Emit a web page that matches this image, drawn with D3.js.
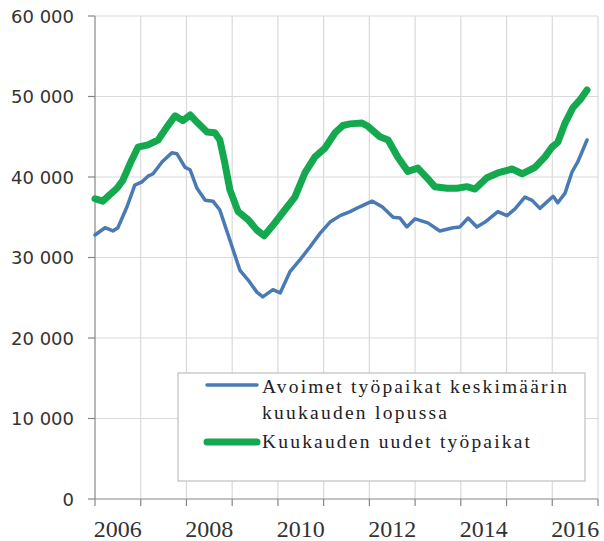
<!DOCTYPE html>
<html>
<head>
<meta charset="utf-8">
<script src="https://cdn.jsdelivr.net/npm/d3@7"></script>
</head>
<body style="margin:0">
<svg id="chart" width="604" height="541" font-family="Liberation Serif"></svg>
<script>
// data (time as decimal year)
var blueT = [2006.00, 2006.22, 2006.39, 2006.50, 2006.70, 2006.87, 2007.03, 2007.16, 2007.27, 2007.47,
             2007.68, 2007.79, 2007.97, 2008.08, 2008.23, 2008.41, 2008.58, 2008.73, 2008.80, 2009.00,
             2009.17, 2009.35, 2009.54, 2009.67, 2009.89, 2010.05, 2010.26, 2010.48, 2010.70, 2010.92,
             2011.14, 2011.36, 2011.58, 2011.79, 2012.06, 2012.28, 2012.52, 2012.67, 2012.82, 2013.00,
             2013.28, 2013.54, 2013.83, 2013.98, 2014.16, 2014.35, 2014.53, 2014.81, 2015.01, 2015.18,
             2015.40, 2015.56, 2015.73, 2016.02, 2016.12, 2016.28, 2016.43, 2016.56, 2016.76];
var blueV = [32800, 33700, 33300, 33700, 36300, 39000, 39400, 40100, 40400, 41900,
             43000, 42900, 41200, 40900, 38600, 37100, 37000, 35900, 34700, 31300,
             28400, 27200, 25700, 25100, 26000, 25600, 28200, 29700, 31300, 33000,
             34400, 35200, 35700, 36300, 37000, 36300, 35000, 34900, 33800, 34800,
             34300, 33300, 33700, 33800, 34900, 33800, 34400, 35700, 35200, 36000,
             37500, 37100, 36100, 37600, 36800, 38000, 40600, 41900, 44600];

var greenT = [2006.00, 2006.17, 2006.48, 2006.61, 2006.77, 2006.94, 2007.16, 2007.38, 2007.57, 2007.75,
              2007.92, 2008.08, 2008.25, 2008.45, 2008.62, 2008.73, 2008.84, 2008.95, 2009.13, 2009.35,
              2009.54, 2009.70, 2009.89, 2010.15, 2010.37, 2010.59, 2010.81, 2011.03, 2011.25, 2011.42,
              2011.58, 2011.84, 2011.97, 2012.23, 2012.41, 2012.63, 2012.84, 2013.06, 2013.26, 2013.43,
              2013.70, 2013.92, 2014.13, 2014.31, 2014.57, 2014.81, 2015.12, 2015.34, 2015.62, 2015.84,
              2015.99, 2016.12, 2016.28, 2016.45, 2016.61, 2016.76];
var greenV = [37300, 37000, 38600, 39600, 41700, 43700, 44000, 44600, 46200, 47600,
              47000, 47700, 46700, 45600, 45500, 44600, 41700, 38400, 35700, 34700,
              33400, 32700, 34000, 35900, 37500, 40500, 42500, 43600, 45500, 46400,
              46600, 46700, 46300, 45000, 44600, 42400, 40700, 41100, 39900, 38800,
              38600, 38600, 38800, 38500, 39900, 40500, 41000, 40400, 41200, 42500,
              43700, 44300, 46700, 48600, 49600, 50800];

var yTicks = [0, 10000, 20000, 30000, 40000, 50000, 60000];
var yLabels = ["0", "10 000", "20 000", "30 000", "40 000", "50 000", "60 000"];
var gridYears = [2006, 2007, 2008, 2009, 2010, 2011, 2012, 2013, 2014, 2015, 2016, 2017];
var labelYears = [2006, 2008, 2010, 2012, 2014, 2016];

var legendNames = ["Avoimet työpaikat keskimäärin", "kuukauden lopussa", "Kuukauden uudet työpaikat"];

var svg = d3.select("#chart");

var x = d3.scaleLinear().domain([2006, 2017]).range([95, 598]);
var y = d3.scaleLinear().domain([0, 60000]).range([499, 16]);

// gridlines
svg.append("g").selectAll("line")
    .data(yTicks.slice(1))
    .enter().append("line")
    .attr("x1", x(2006)).attr("x2", x(2017))
    .attr("y1", function(d){ return y(d); })
    .attr("y2", function(d){ return y(d); })
    .attr("stroke", "#d9d9d9").attr("stroke-width", 1.2);

svg.append("g").selectAll("line")
    .data(gridYears.slice(1))
    .enter().append("line")
    .attr("x1", function(d){ return x(d); })
    .attr("x2", function(d){ return x(d); })
    .attr("y1", y(60000)).attr("y2", y(0))
    .attr("stroke", "#d9d9d9").attr("stroke-width", 1.2);

// axes
svg.append("line")
    .attr("x1", x(2006)).attr("x2", x(2006))
    .attr("y1", y(60000)).attr("y2", y(0))
    .attr("stroke", "#868686").attr("stroke-width", 1.2);
svg.append("line")
    .attr("x1", x(2006)).attr("x2", x(2017))
    .attr("y1", y(0)).attr("y2", y(0))
    .attr("stroke", "#868686").attr("stroke-width", 1.2);

svg.append("g").selectAll("line")
    .data(yTicks).enter().append("line")
    .attr("x1", x(2006) - 7).attr("x2", x(2006))
    .attr("y1", function(d){ return y(d); })
    .attr("y2", function(d){ return y(d); })
    .attr("stroke", "#868686").attr("stroke-width", 1.2);

svg.append("g").selectAll("line")
    .data(gridYears).enter().append("line")
    .attr("x1", function(d){ return x(d); })
    .attr("x2", function(d){ return x(d); })
    .attr("y1", y(0)).attr("y2", y(0) + 7)
    .attr("stroke", "#868686").attr("stroke-width", 1.2);

svg.append("g").selectAll("text")
    .data(yTicks).enter().append("text")
    .attr("x", 74)
    .attr("y", function(d){ return y(d) + 6.5; })
    .attr("font-family", "DejaVu Sans")
    .attr("font-size", 18)
    .attr("fill", "#333")
    .attr("text-anchor", "end")
    .text(function(d, i){ return yLabels[i]; });

svg.append("g").selectAll("text")
    .data(labelYears).enter().append("text")
    .attr("x", function(d){ return x(d + 0.5); })
    .attr("y", 537)
    .attr("font-family", "Liberation Serif")
    .attr("font-size", 24)
    .attr("fill", "#333")
    .attr("text-anchor", "middle")
    .text(function(d){ return d; });

// series
var line = d3.line()
    .x(function(d){ return x(d[0]); })
    .y(function(d){ return y(d[1]); });

svg.append("path")
    .datum(d3.zip(greenT, greenV))
    .attr("d", line)
    .attr("fill", "none")
    .attr("stroke", "#14a84f")
    .attr("stroke-width", 7)
    .attr("stroke-linejoin", "round")
    .attr("stroke-linecap", "round");

svg.append("path")
    .datum(d3.zip(blueT, blueV))
    .attr("d", line)
    .attr("fill", "none")
    .attr("stroke", "#4a7ab4")
    .attr("stroke-width", 3.5)
    .attr("stroke-linejoin", "round")
    .attr("stroke-linecap", "round");

// legend
var lg = svg.append("g");
lg.append("rect")
    .attr("x", 178).attr("y", 373)
    .attr("width", 407).attr("height", 108)
    .attr("fill", "#fff")
    .attr("stroke", "#bfbfbf").attr("stroke-width", 1.2);

lg.append("line")
    .attr("x1", 207).attr("x2", 257).attr("y1", 385).attr("y2", 385)
    .attr("stroke", "#4a7ab4").attr("stroke-width", 3.5).attr("stroke-linecap", "round");
lg.append("line")
    .attr("x1", 207).attr("x2", 257).attr("y1", 442).attr("y2", 442)
    .attr("stroke", "#14a84f").attr("stroke-width", 7).attr("stroke-linecap", "round");

var legendY = [393, 419, 448];
var legendW = [305, 185, 268];
lg.selectAll("text")
    .data(legendNames).enter().append("text")
    .attr("x", 262)
    .attr("y", function(d, i){ return legendY[i]; })
    .attr("textLength", function(d, i){ return legendW[i]; })
    .attr("lengthAdjust", "spacing")
    .attr("font-family", "Liberation Serif")
    .attr("font-size", 19.5)
    .attr("fill", "#222")
    .text(function(d){ return d; });
</script>
</body>
</html>
